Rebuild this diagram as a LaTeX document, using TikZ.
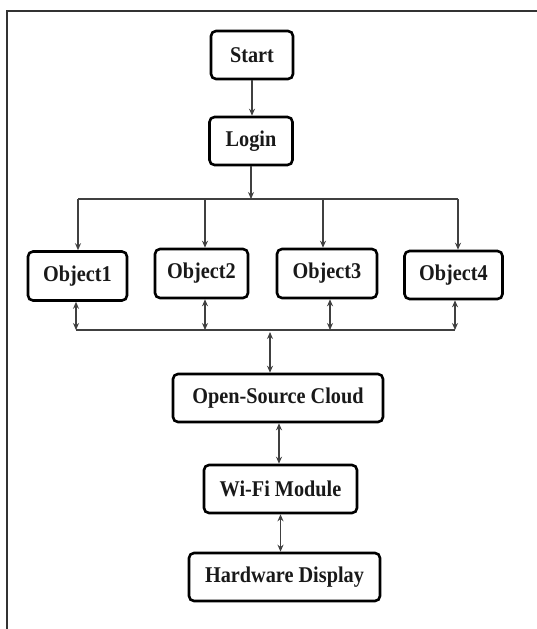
\documentclass[tikz,border=0pt]{standalone}
\usepackage{fontspec}
\setmainfont{Liberation Serif}[FakeStretch=0.9]
\usetikzlibrary{arrows.meta}
\tikzset{
  box/.style={draw=black, line width=2.6pt, rounded corners=5pt, fill=white,
    inner sep=0pt, font=\fontsize{22.5}{25}\selectfont\bfseries, text=black!90},
  link/.style={draw=black!75, line width=1.1pt},
  oneway/.style={link, -{Stealth[length=7pt,width=6pt]}},
  twoway/.style={link, {Stealth[length=7pt,width=6pt]}-{Stealth[length=7pt,width=6pt]}},
  frame/.style={draw=black!80, line width=2pt}
}
\begin{document}
\begin{tikzpicture}[x=1pt,y=-1pt]
\useasboundingbox (0,0) rectangle (537,629);
% outer frame (top and left edges)
\draw[frame] (7,629) -- (7,11) -- (537,11);

% nodes
\node[box, minimum width=82pt, minimum height=48pt] (start) at (252,55) {Start};
\node[box, minimum width=83pt, minimum height=48pt] (login) at (251,141) {Login};
\node[box, minimum width=99pt, minimum height=49pt] (o1) at (77.5,276) {Object1};
\node[box, minimum width=93pt, minimum height=49pt] (o2) at (201.5,273.5) {Object2};
\node[box, minimum width=100pt, minimum height=49pt] (o3) at (327,273.5) {Object3};
\node[box, minimum width=98pt, minimum height=48pt] (o4) at (453.5,275) {Object4};
\node[box, minimum width=210pt, minimum height=48pt] (cloud) at (278,398) {Open-Source Cloud};
\node[box, minimum width=153pt, minimum height=48pt] (wifi) at (280.5,489) {Wi-Fi Module};
\node[box, minimum width=191pt, minimum height=48pt] (hw) at (284.5,577) {Hardware Display};

% distribution bus
\coordinate (t1) at (78,199);
\coordinate (t2) at (205,199);
\coordinate (t3) at (323,199);
\coordinate (t4) at (458,199);
% collection bus
\coordinate (b1) at (76,330);
\coordinate (b2) at (205,330);
\coordinate (b3) at (330,330);
\coordinate (b4) at (455,330);
\coordinate (bc) at (270,332);

% connectors
\draw[oneway] (start.south) -- (start.south |- login.north);
\draw[oneway] (login.south) -- (login.south |- t1);
\draw[link] (t1) -- (t4);
\draw[oneway] (t1) -- (t1 |- o1.north);
\draw[oneway] (t2) -- (t2 |- o2.north);
\draw[oneway] (t3) -- (t3 |- o3.north);
\draw[oneway] (t4) -- (t4 |- o4.north);

\draw[link] (b1) -- (b4);
\draw[twoway] (b1 |- o1.south) -- (b1);
\draw[twoway] (b2 |- o2.south) -- (b2);
\draw[twoway] (b3 |- o3.south) -- (b3);
\draw[twoway] (b4 |- o4.south) -- (b4);
\draw[twoway] (bc) -- (bc |- cloud.north);

\draw[twoway] ([xshift=1pt]cloud.south) -- ([xshift=1pt]cloud.south |- wifi.north);
\draw[twoway] (wifi.south) -- (wifi.south |- hw.north);
\end{tikzpicture}
\end{document}
